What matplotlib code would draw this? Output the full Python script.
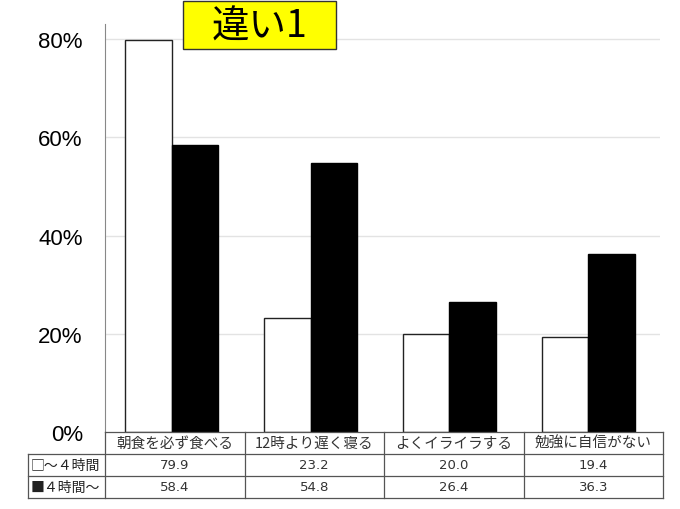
import matplotlib
matplotlib.use("Agg")
import matplotlib.pyplot as plt
from matplotlib.patches import Rectangle
import numpy as np

plt.rcParams['font.family'] = ['Noto Sans CJK JP', 'DejaVu Sans']

categories = ['朝食を必ず食べる', '12時より遅く寝る', 'よくイライラする', '勉強に自信がない']
short_sleep = [79.9, 23.2, 20.0, 19.4]   # ～4時間
long_sleep = [58.4, 54.8, 26.4, 36.3]    # 4時間～
series_labels = ['□～４時間', '■４時間～']
yticks = [0, 20, 40, 60, 80]

fig = plt.figure(figsize=(6.8, 5.1), dpi=100)
W, H = 680, 510
ax = fig.add_axes([105 / W, 1 - 433 / H, 555 / W, 408 / H])

x = np.arange(len(categories))
w = 0.335
ax.bar(x - 0.185, short_sleep, w, color='white', edgecolor='#222222', linewidth=1.0, zorder=3)
ax.bar(x + 0.15, long_sleep, w, color='black', edgecolor='black', linewidth=1.0, zorder=3)

ax.set_xlim(-0.5, len(categories) - 0.5)
ax.set_ylim(0, 83.1)
ax.set_yticks(yticks)
ax.set_yticklabels(['{}%'.format(t) for t in yticks], fontsize=16,
                   family=['Liberation Sans', 'DejaVu Sans'])
ax.tick_params(axis='y', length=0, pad=16)
ax.set_xticks([])
for t in yticks[1:]:
    ax.axhline(t, color='#e3e3e3', linewidth=1.0, zorder=1)
for s in ['top', 'right', 'bottom']:
    ax.spines[s].set_visible(False)
ax.spines['left'].set_color('#888888')

# data table under the chart, drawn in its own pixel-scaled axes
tax = fig.add_axes([0, 0, 1, 1], zorder=5)
tax.set_xlim(0, W)
tax.set_ylim(H, 0)
tax.axis('off')
col_edges = [28, 105] + [105 + 139.5 * (i + 1) for i in range(len(categories))]
row_edges = [433, 455, 477, 499]
lc = '#555555'
lw = 0.9
tax.plot([105, col_edges[-1]], [433, 433], color=lc, lw=lw)
for yy in row_edges[1:]:
    tax.plot([28, col_edges[-1]], [yy, yy], color=lc, lw=lw)
for xx in col_edges[1:]:
    tax.plot([xx, xx], [433, 499], color=lc, lw=lw)
tax.plot([28, 28], [455, 499], color=lc, lw=lw)

for i, cat in enumerate(categories):
    cx = (col_edges[i + 1] + col_edges[i + 2]) / 2
    tax.text(cx, 444, cat, ha='center', va='center', fontsize=10.5, color='#333333')
    for r, vals in enumerate([short_sleep, long_sleep]):
        tax.text(cx, (row_edges[r + 1] + row_edges[r + 2]) / 2, '{:.1f}'.format(vals[i]),
                 ha='center', va='center', fontsize=9.5, color='#333333',
                 family=['DejaVu Sans'])
for r, lab in enumerate(series_labels):
    tax.text(31, (row_edges[r + 1] + row_edges[r + 2]) / 2, lab, ha='left', va='center',
             fontsize=10, color='#222222')

# title box
fig.patches.append(Rectangle((183 / W, 1 - 50 / H), 153 / W, 48 / H, transform=fig.transFigure,
                             facecolor='#ffff00', edgecolor='#333333', linewidth=1, zorder=6))
fig.text(259.5 / W, 1 - 27 / H, '違い1', fontsize=27, ha='center', va='center',
         color='black', zorder=7)

fig.savefig('out.png', dpi=100)
